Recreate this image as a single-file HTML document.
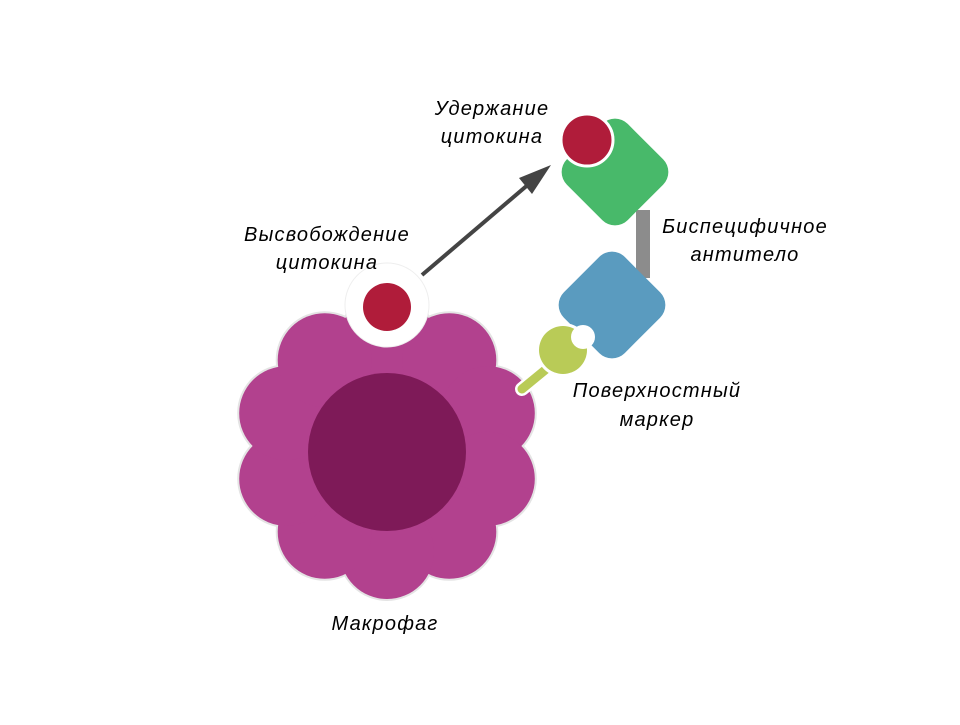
<!DOCTYPE html>
<html><head><meta charset="utf-8"><style>
html,body{margin:0;padding:0;background:#fff;}
svg text{font-family:"Liberation Sans",sans-serif;font-style:italic;font-size:20px;letter-spacing:1.2px;fill:#000;}
</style></head><body>
<svg width="960" height="720" viewBox="0 0 960 720" xmlns="http://www.w3.org/2000/svg">
<defs>
<g id="fl">
<circle cx="387" cy="446" r="104"/>
<circle cx="387" cy="340" r="47"/>
<circle cx="449.3" cy="360.2" r="47"/>
<circle cx="487.8" cy="413.2" r="47"/>
<circle cx="487.8" cy="478.8" r="47"/>
<circle cx="449.3" cy="531.8" r="47"/>
<circle cx="387" cy="552" r="47"/>
<circle cx="324.7" cy="531.8" r="47"/>
<circle cx="286.2" cy="478.8" r="47"/>
<circle cx="286.2" cy="413.2" r="47"/>
<circle cx="324.7" cy="360.2" r="47"/>
</g>
</defs>
<g fill="#fff" stroke="#e4e4e4" stroke-width="4"><use href="#fl"/></g>
<g fill="#b2418e"><use href="#fl"/></g>
<circle cx="387" cy="452" r="79" fill="#7e1a58"/>
<circle cx="387" cy="305" r="42" fill="#fff" stroke="#eee" stroke-width="1"/>
<circle cx="387" cy="307" r="24" fill="#b01c3a"/>
<!-- arrow -->
<line x1="422" y1="275" x2="530" y2="183" stroke="#444" stroke-width="4"/>
<polygon points="551,165 519,178 532,194" fill="#444"/>
<!-- bar -->
<rect x="636" y="210" width="14" height="68" fill="#8c8c8c"/>
<!-- green -->
<rect x="572" y="129" width="86" height="86" rx="18" fill="#48b96a" transform="rotate(45 615 172)"/>
<circle cx="587" cy="140" r="26" fill="#b01c3a" stroke="#fff" stroke-width="3"/>
<!-- blue -->
<rect x="569" y="262" width="86" height="86" rx="18" fill="#5a9bbf" transform="rotate(45 612 305)"/>
<!-- marker -->
<line x1="550" y1="366" x2="522" y2="389" stroke="#fff" stroke-width="14" stroke-linecap="round"/>
<line x1="550" y1="366" x2="522" y2="389" stroke="#b9cb57" stroke-width="9" stroke-linecap="round"/>
<circle cx="563" cy="350" r="27" fill="#fff"/>
<circle cx="563" cy="350" r="24" fill="#b9cb57"/>
<circle cx="583" cy="337" r="12" fill="#fff"/>
<!-- labels -->
<text x="492" y="115" text-anchor="middle">Удержание</text>
<text x="492" y="143" text-anchor="middle">цитокина</text>
<text x="327" y="241" text-anchor="middle">Высвобождение</text>
<text x="327" y="269" text-anchor="middle">цитокина</text>
<text x="745" y="233" text-anchor="middle">Биспецифичное</text>
<text x="745" y="261" text-anchor="middle">антитело</text>
<text x="657" y="397" text-anchor="middle">Поверхностный</text>
<text x="657" y="426" text-anchor="middle">маркер</text>
<text x="385" y="630" text-anchor="middle">Макрофаг</text>
</svg>
</body></html>
